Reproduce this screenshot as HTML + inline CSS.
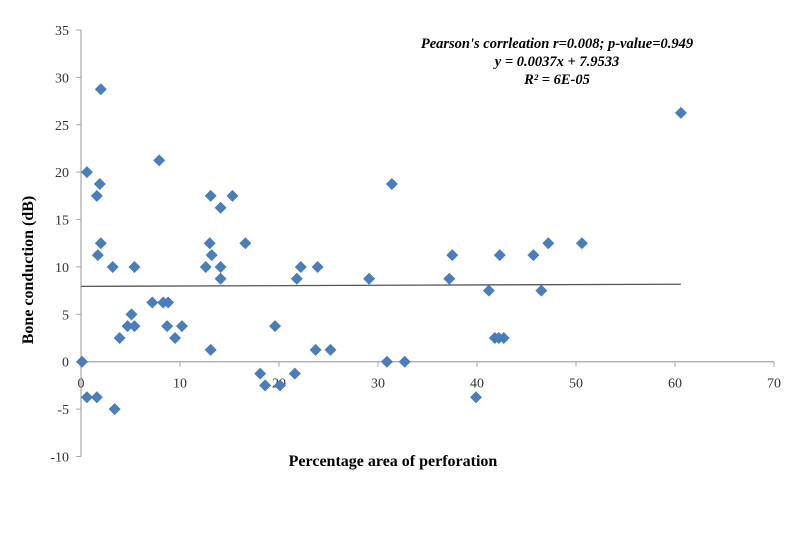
<!DOCTYPE html>
<html><head><meta charset="utf-8"><style>
body{margin:0;background:#fff;}
svg text{font-family:"Liberation Serif",serif;}
</style></head><body>
<svg id="chart" width="800" height="533" xmlns="http://www.w3.org/2000/svg">
<g id="axes"></g>
<g id="marks"></g>
<text x="557" y="48" text-anchor="middle" font-size="14.5" font-weight="bold" font-style="italic">Pearson's corrleation r=0.008; p-value=0.949</text>
<text x="557" y="66" text-anchor="middle" font-size="14.5" font-weight="bold" font-style="italic">y = 0.0037x + 7.9533</text>
<text x="557" y="84" text-anchor="middle" font-size="14.5" font-weight="bold" font-style="italic">R² = 6E-05</text>
<text x="393" y="466" text-anchor="middle" font-size="16" font-weight="bold">Percentage area of perforation</text>
<text x="0" y="0" transform="translate(33,270) rotate(-90)" text-anchor="middle" font-size="16" font-weight="bold">Bone conduction (dB)</text>
</svg>
<script>
const xVals=[0.1,0.6,2.0,7.9,1.9,1.6,2.0,1.7,3.2,5.4,5.1,4.7,5.4,3.9,7.2,8.3,8.8,8.7,9.5,10.2,12.6,13.0,13.2,13.1,13.1,14.1,14.1,14.1,15.3,16.6,19.6,18.1,18.6,0.6,1.6,3.4,31.4,37.5,42.3,45.7,47.2,50.6,22.2,23.9,21.8,29.1,37.2,41.2,46.5,23.7,25.2,30.9,32.7,41.8,42.2,42.7,21.6,20.1,39.9,60.6];
const yVals=[0,20,28.75,21.25,18.75,17.5,12.5,11.25,10,10,5,3.75,3.75,2.5,6.25,6.25,6.25,3.75,2.5,3.75,10,12.5,11.25,17.5,1.25,16.25,10,8.75,17.5,12.5,3.75,-1.25,-2.5,-3.75,-3.75,-5,18.75,11.25,11.25,11.25,12.5,12.5,10,10,8.75,8.75,8.75,7.5,7.5,1.25,1.25,0,0,2.5,2.5,2.5,-1.25,-2.5,-3.75,26.25];
const xTicks=[0,10,20,30,40,50,60,70];
const yTicks=[35,30,25,20,15,10,5,0,-5,-10];
const slope=0.0037, intercept=7.9533;
const trendRange=[0,60.6];
const NS="http://www.w3.org/2000/svg";
const X0=81,X1=774,Y0=456.5,Y1=30;
function sx(v){return X0+(v-0)/(70-0)*(X1-X0);}
function sy(v){return Y0-(v+10)/(45)*(Y0-Y1);}
function mk(tag,attrs,parent){const e=document.createElementNS(NS,tag);for(const k in attrs)e.setAttribute(k,attrs[k]);parent.appendChild(e);return e;}
const axes=document.getElementById('axes');
let l=mk('line',{x1:X0,y1:Y1,x2:X0,y2:Y0,stroke:'#a6a6a6','stroke-width':1.2},axes);


l=mk('line',{x1:X0,y1:sy(0),x2:X1,y2:sy(0),stroke:'#a6a6a6','stroke-width':1.2},axes);


yTicks.forEach(t=>{
  const y=sy(t);
  const tk=mk('line',{x1:X0-5,y1:y,x2:X0,y2:y,stroke:'#a6a6a6','stroke-width':1},axes);
  
  
  const tx=mk('text',{x:X0-12,y:y+5,'text-anchor':'end','font-size':'14',fill:'#333'},axes);
  tx.textContent=t;
  
  
});
xTicks.forEach(t=>{
  const x=sx(t);
  const tk=mk('line',{x1:x,y1:sy(0),x2:x,y2:sy(0)+5,stroke:'#a6a6a6','stroke-width':1},axes);
  
  
  const tx=mk('text',{x:x,y:sy(0)+26,'text-anchor':'middle','font-size':'14',fill:'#333'},axes);
  tx.textContent=t;
  
  
});
const tl=mk('line',{x1:sx(trendRange[0]),y1:sy(slope*trendRange[0]+intercept),x2:sx(trendRange[1]),y2:sy(slope*trendRange[1]+intercept),stroke:'#555','stroke-width':1.3},axes);


const marks=document.getElementById('marks');
xVals.forEach((xv,i)=>{
  const cx=sx(xv),cy=sy(yVals[i]),r=6;
  const p=mk('polygon',{points:`${cx},${cy-r} ${cx+r},${cy} ${cx},${cy+r} ${cx-r},${cy}`,fill:'#4a7ebb'},marks);
  
  
});
</script>
</body></html>
